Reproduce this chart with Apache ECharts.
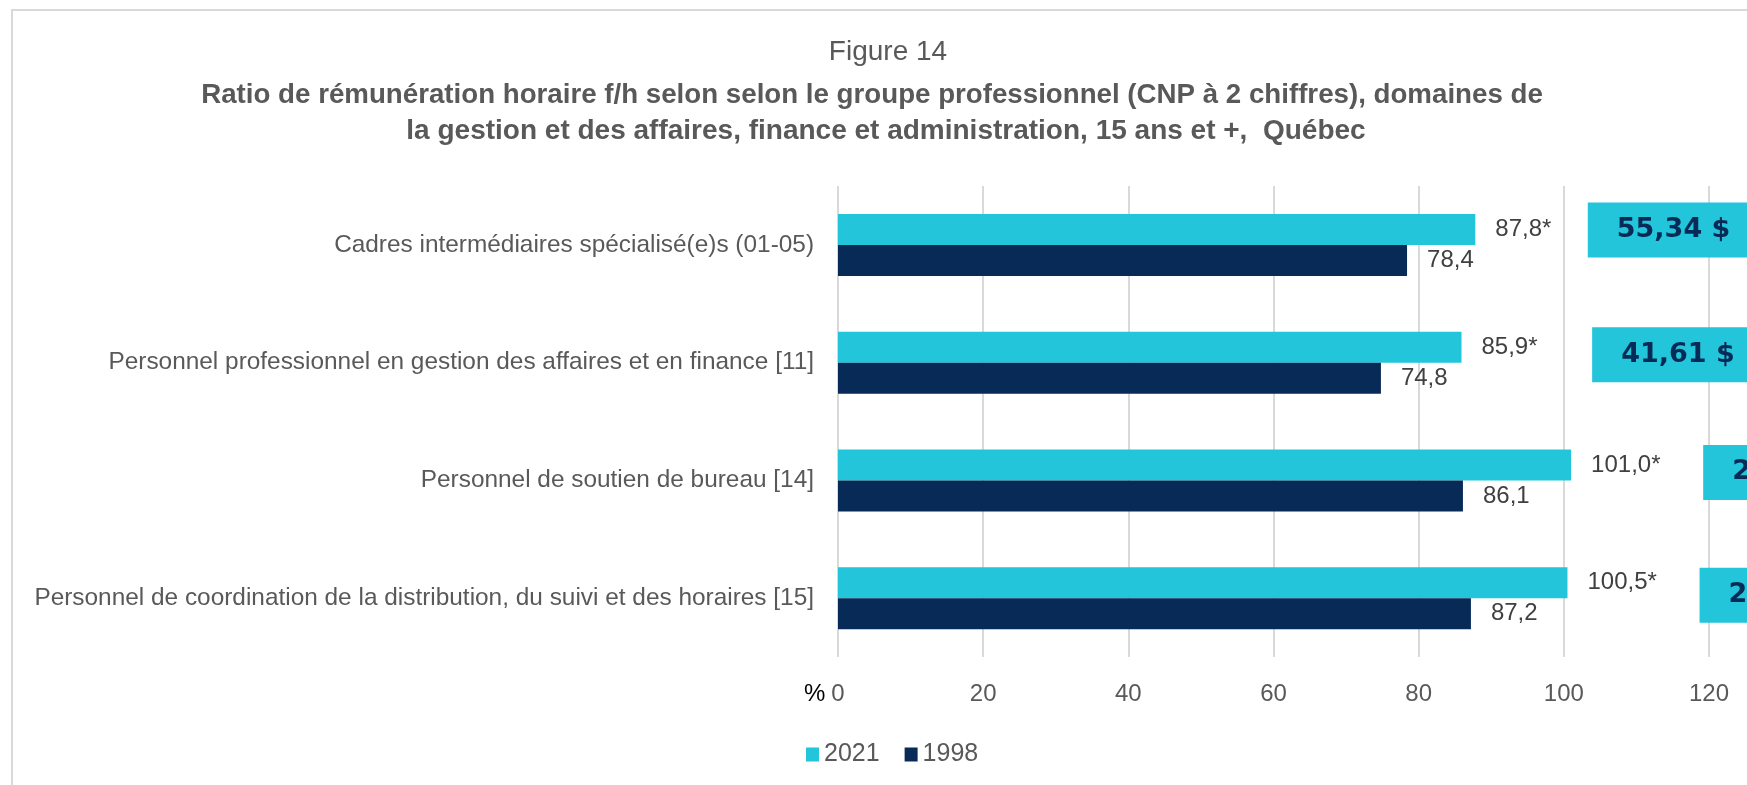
<!DOCTYPE html>
<html>
<head>
<meta charset="utf-8">
<title>Figure 14</title>
<script src="https://cdn.jsdelivr.net/npm/echarts@6/dist/echarts.min.js"></script>
<style>
html, body { margin: 0; padding: 0; background: #fff; overflow: hidden; }
#frame { position: absolute; left: 11px; top: 9px; width: 1900px; height: 900px; border: 2px solid #d9d9d9; box-sizing: border-box; }
#chart { position: absolute; left: 0; top: 0; width: 1747px; height: 785px; }
</style>
</head>
<body>
<div id="frame"></div>
<div id="chart"></div>
<script>
// data
const categories = [
    'Cadres intermédiaires spécialisé(e)s (01-05)',
    'Personnel professionnel en gestion des affaires et en finance [11]',
    'Personnel de soutien de bureau [14]',
    'Personnel de coordination de la distribution, du suivi et des horaires [15]'
];
const ratio2021 = [87.8, 85.9, 101.0, 100.5];
const ratio1998 = [78.4, 74.8, 86.1, 87.2];
const signif2021 = [true, true, true, true];   // * = différence significative
const wageLabels = ['55,34 $', '41,61 $', '25,17 $', '24,84 $'];
const seriesNames = ['2021', '1998'];
const axisMin = 0, axisMax = 120, axisStep = 20;

// couleurs / polices
const cyan = '#22C5DA';
const navy = '#072A56';
const font = 'Liberation Sans, Arial, sans-serif';

// encadrés salaire (hors graphique, coupés à droite)
const boxAnchor = [103.3, 103.9, 119.2, 118.7];
const boxShift = [-15, -8, -8, -3];

function fmt(v, star) {
    return v.toFixed(1).replace('.', ',') + (star ? '*' : '');
}

const chart = echarts.init(document.getElementById('chart'));
chart.setOption({
    animation: false,
    graphic: [
        { type: 'text', x: 888, y: 52, style: { text: 'Figure 14', align: 'center', verticalAlign: 'middle', fontSize: 28, fontFamily: font, fill: '#595959' } },
        { type: 'text', x: 872, y: 95, style: { text: 'Ratio de rémunération horaire f/h selon selon le groupe professionnel (CNP à 2 chiffres), domaines de', align: 'center', verticalAlign: 'middle', fontSize: 27.7, fontWeight: 'bold', fontFamily: font, fill: '#595959' } },
        { type: 'text', x: 886, y: 131, style: { text: 'la gestion et des affaires, finance et administration, 15 ans et +,  Québec', align: 'center', verticalAlign: 'middle', fontSize: 28, fontWeight: 'bold', fontFamily: font, fill: '#595959' } }
    ],
    legend: {
        data: seriesNames,
        left: 801,
        top: 737,
        icon: 'rect',
        itemWidth: 13,
        itemHeight: 14,
        itemGap: 25,
        textStyle: { fontFamily: font, fontSize: 25, color: '#595959' }
    },
    grid: { left: 838, right: 38, top: 186, bottom: 128 },
    xAxis: {
        type: 'value',
        min: axisMin,
        max: axisMax,
        interval: axisStep,
        name: '%',
        nameLocation: 'start',
        nameGap: 5,
        nameTextStyle: { fontFamily: font, fontSize: 24, color: '#000', verticalAlign: 'top', padding: [25, 0, 0, 0] },
        axisLine: { show: false },
        axisTick: { show: false },
        axisLabel: { margin: 25, fontFamily: font, fontSize: 24, color: '#595959' },
        splitLine: { show: true, lineStyle: { color: '#d9d9d9', width: 2 } }
    },
    yAxis: {
        type: 'category',
        data: categories,
        inverse: true,
        axisLine: { show: false },
        axisTick: { show: false },
        axisLabel: { margin: 24, fontFamily: font, fontSize: 24.4, color: '#595959' }
    },
    series: [
        {
            name: seriesNames[0],
            type: 'bar',
            data: ratio2021,
            barWidth: 31,
            barGap: '0%',
            itemStyle: { color: cyan },
            label: {
                show: true, position: 'right', distance: 20,
                fontFamily: font, fontSize: 24, color: '#404040',
                formatter: p => fmt(p.value, signif2021[p.dataIndex])
            }
        },
        {
            name: seriesNames[1],
            type: 'bar',
            data: ratio1998,
            barWidth: 31,
            itemStyle: { color: navy },
            label: {
                show: true, position: 'right', distance: 20,
                fontFamily: font, fontSize: 24, color: '#404040',
                formatter: p => fmt(p.value, false)
            }
        },
        {
            // encadrés salaire horaire
            type: 'scatter',
            silent: true,
            clip: false,
            symbolSize: 0,
            z: 5,
            itemStyle: { opacity: 1 },
            data: wageLabels.map((w, i) => ({
                value: [boxAnchor[i], i],
                label: { offset: [0, boxShift[i]] }
            })),
            label: {
                show: true,
                position: 'right',
                distance: 0,
                formatter: p => wageLabels[p.dataIndex],
                backgroundColor: cyan,
                padding: [12, 29, 13, 29],
                lineHeight: 30,
                fontFamily: 'DejaVu Sans, Verdana, sans-serif',
                fontWeight: 'bold',
                fontSize: 27,
                color: navy
            }
        }
    ]
});
</script>
</body>
</html>
